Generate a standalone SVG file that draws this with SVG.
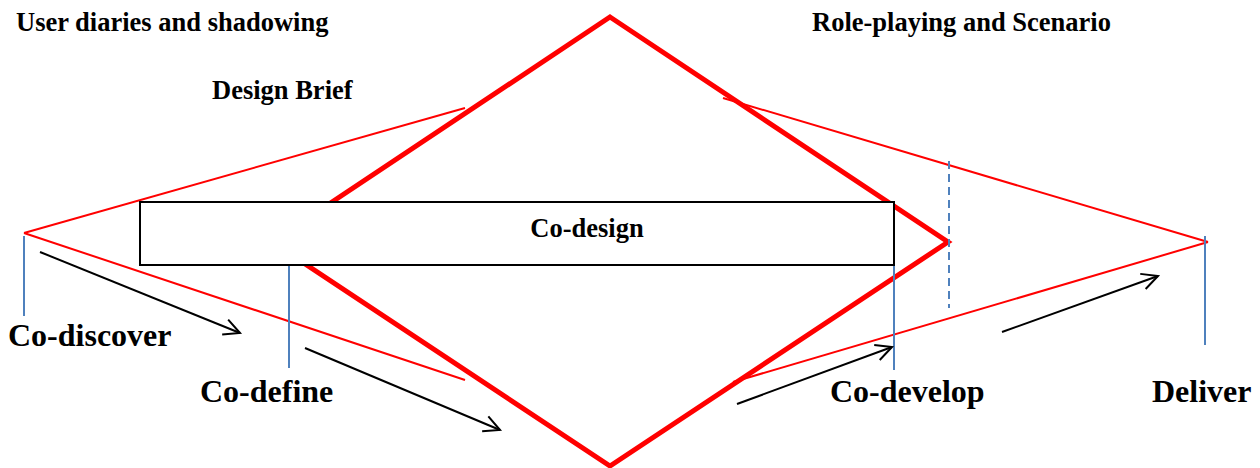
<svg xmlns="http://www.w3.org/2000/svg" width="1260" height="468" viewBox="0 0 1260 468">
<defs>
<style>
.lbl{font-family:"Liberation Serif","Times New Roman",serif;font-weight:bold;fill:#000}
.small{font-size:26.5px}
.big{font-size:32px}
.thin{stroke:#ff0000;stroke-width:2;fill:none}
.blue{stroke:#4f81bd;stroke-width:2;fill:none}
.arr{stroke:#000;stroke-width:2;fill:none}
</style>
<marker id="open" viewBox="0 0 20 20" refX="18" refY="10" markerWidth="20" markerHeight="20" markerUnits="userSpaceOnUse" orient="auto">
<path d="M2,2 L18,10 L2,18" fill="none" stroke="#000" stroke-width="2"/>
</marker>
</defs>
<rect width="1260" height="468" fill="#fff"/>
<g id="connectors">
<polygon id="diamond" points="610,17 948,242 610,466 272,242" fill="none" stroke="#ff0000" stroke-width="5" stroke-linejoin="miter"/>
<line class="thin" x1="24" y1="233" x2="465" y2="108"/>
<line class="thin" x1="24" y1="233" x2="465" y2="380"/>
<line class="thin" x1="723" y1="98" x2="1208" y2="242"/>
<line class="thin" x1="733" y1="382" x2="1208" y2="242"/>
<line class="blue" x1="24" y1="236" x2="24" y2="316"/>
<line class="blue" x1="289" y1="266" x2="289" y2="368"/>
<line class="blue" x1="894" y1="265" x2="894" y2="370"/>
<line class="blue" x1="1205" y1="236" x2="1205" y2="345"/>
<line class="blue" x1="949" y1="161" x2="949" y2="308" stroke-dasharray="8,5"/>
<line class="arr" x1="40" y1="252" x2="240" y2="333" marker-end="url(#open)"/>
<line class="arr" x1="305" y1="348" x2="500" y2="430" marker-end="url(#open)"/>
<line class="arr" x1="737" y1="404" x2="892" y2="347" marker-end="url(#open)"/>
<line class="arr" x1="1002" y1="332" x2="1158" y2="276" marker-end="url(#open)"/>
</g>
<g id="codesign">
<rect x="140" y="202" width="754" height="63" fill="#fff" stroke="#000" stroke-width="2"/>
<text class="lbl small" x="587" y="237" text-anchor="middle">Co-design</text>
</g>
<g id="user-diaries"><text class="lbl small" x="16" y="31">User diaries and shadowing</text></g>
<g id="design-brief"><text class="lbl small" x="212" y="99">Design Brief</text></g>
<g id="role-playing"><text class="lbl small" x="812" y="31">Role-playing and Scenario</text></g>
<g id="co-discover"><text class="lbl big" x="8" y="346">Co-discover</text></g>
<g id="co-define"><text class="lbl big" x="200" y="402">Co-define</text></g>
<g id="co-develop"><text class="lbl big" x="830" y="402">Co-develop</text></g>
<g id="deliver"><text class="lbl big" x="1152" y="402">Deliver</text></g>
</svg>
